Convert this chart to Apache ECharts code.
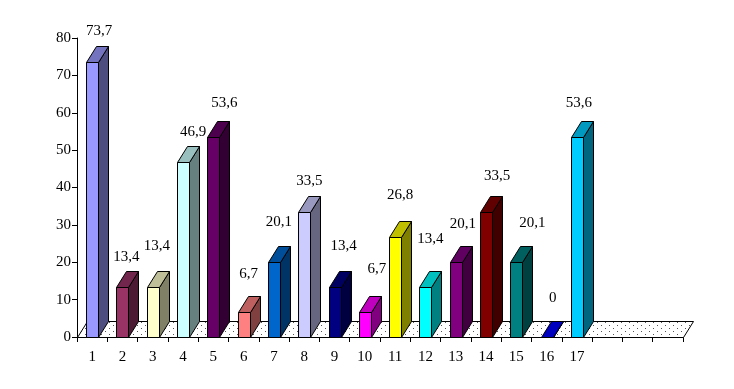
<!DOCTYPE html>
<html><head><meta charset="utf-8">
<style>html,body{margin:0;padding:0;background:#fff}#c{width:734px;height:389px}</style>
<script src="https://cdn.jsdelivr.net/npm/echarts@6/dist/echarts.min.js"></script>
</head><body><div id="c"></div>
<script>
const categories = ['1','2','3','4','5','6','7','8','9','10','11','12','13','14','15','16','17','','',''];
const values = [73.7,13.4,13.4,46.9,53.6,6.7,20.1,33.5,13.4,6.7,26.8,13.4,20.1,33.5,20.1,0,53.6];
const labels = ['73,7','13,4','13,4','46,9','53,6','6,7','20,1','33,5','13,4','6,7','26,8','13,4','20,1','33,5','20,1','0','53,6'];
const barColors = ['#9999ff','#993366','#ffffcc','#ccffff','#660066','#ff8080','#0066cc','#ccccff','#000080','#ff00ff','#ffff00','#00ffff','#800080','#800000','#008080','#0000ff','#00ccff'];
// label placement relative to the top of each bar's front face
const labelDx = [7,4,4,10,11,5,5,5,9,12,5,5,7,11,16,6,2];
const labelDy = [-30,-30,-41,-30,-34,-38,-40,-31,-41,-43,-42,-48,-38,-36,-39,-39,-34];

const DX = 10, DY = 16, BAR_W = 12, FONT = '15px "Liberation Serif"';

function shade(hex, k) {
  const n = parseInt(hex.slice(1), 16);
  const ch = s => Math.round(((n >> s) & 255) * k);
  return 'rgb(' + ch(16) + ',' + ch(8) + ',' + ch(0) + ')';
}
const dots = document.createElement('canvas');
dots.width = 8; dots.height = 6;
(function () {
  const g = dots.getContext('2d');
  g.fillStyle = '#fff'; g.fillRect(0, 0, 8, 6);
  g.fillStyle = '#555'; g.fillRect(1, 1, 1, 1); g.fillRect(5, 4, 1, 1);
})();
const crisp = v => Math.round(v) + 0.5;

const chart = echarts.init(document.getElementById('c'), null, {renderer: 'canvas'});
chart.setOption({
  animation: false,
  backgroundColor: '#fff',
  grid: {left: 77, top: 38, width: 606, height: 299, containLabel: false},
  xAxis: {
    type: 'category', data: categories,
    axisLine: {lineStyle: {color: '#000', width: 1}},
    axisTick: {show: true, alignWithLabel: false, length: 5, lineStyle: {color: '#000'}, interval: 0},
    axisLabel: {interval: 0, color: '#000', fontFamily: 'Liberation Serif', fontSize: 15, margin: 13},
    splitLine: {show: false}
  },
  yAxis: {
    type: 'value', min: 0, max: 80, interval: 10,
    axisLine: {show: true, lineStyle: {color: '#000', width: 1}},
    axisTick: {show: true, length: 5, lineStyle: {color: '#000'}},
    axisLabel: {color: '#000', fontFamily: 'Liberation Serif', fontSize: 15, margin: 6},
    splitLine: {show: false}
  },
  series: [
    {
      type: 'custom', coordinateSystem: 'cartesian2d', z: 1, silent: true,
      data: [[0, 0]],
      renderItem: function (params, api) {
        const cs = params.coordSys;
        const x0 = crisp(cs.x), x1 = crisp(cs.x + cs.width), y = crisp(api.coord([0, 0])[1]);
        return {
          type: 'polygon',
          shape: {points: [[x0, y], [x1, y], [x1 + DX, y - DY], [x0 + DX, y - DY]]},
          style: {fill: {image: dots, repeat: 'repeat'}, stroke: '#000', lineWidth: 1}
        };
      }
    },
    {
      type: 'custom', coordinateSystem: 'cartesian2d', z: 2, silent: true,
      encode: {x: 0, y: 1},
      data: values.map((v, i) => [i, v]),
      renderItem: function (params, api) {
        const i = api.value(0), v = api.value(1);
        const top = api.coord([i, v]), base = api.coord([i, 0]);
        const xl = crisp(top[0] - BAR_W / 2), xr = xl + BAR_W;
        const yt = crisp(top[1]), yb = crisp(base[1]);
        const c = barColors[i], line = {stroke: '#000', lineWidth: 1};
        return {
          type: 'group',
          children: [
            {type: 'polygon', shape: {points: [[xr, yt], [xr + DX, yt - DY], [xr + DX, yb - DY], [xr, yb]]},
              style: Object.assign({fill: shade(c, 0.5)}, line)},
            {type: 'polygon', shape: {points: [[xl, yt], [xl + DX, yt - DY], [xr + DX, yt - DY], [xr, yt]]},
              style: Object.assign({fill: shade(c, 0.75)}, line)},
            {type: 'rect', shape: {x: xl, y: yt, width: BAR_W, height: yb - yt},
              style: Object.assign({fill: c}, line)},
            {type: 'text', z2: 50,
              style: {text: labels[i], x: top[0] + labelDx[i], y: top[1] + labelDy[i],
                align: 'center', verticalAlign: 'middle', font: FONT, fill: '#000'}}
          ]
        };
      }
    }
  ]
});
</script></body></html>
